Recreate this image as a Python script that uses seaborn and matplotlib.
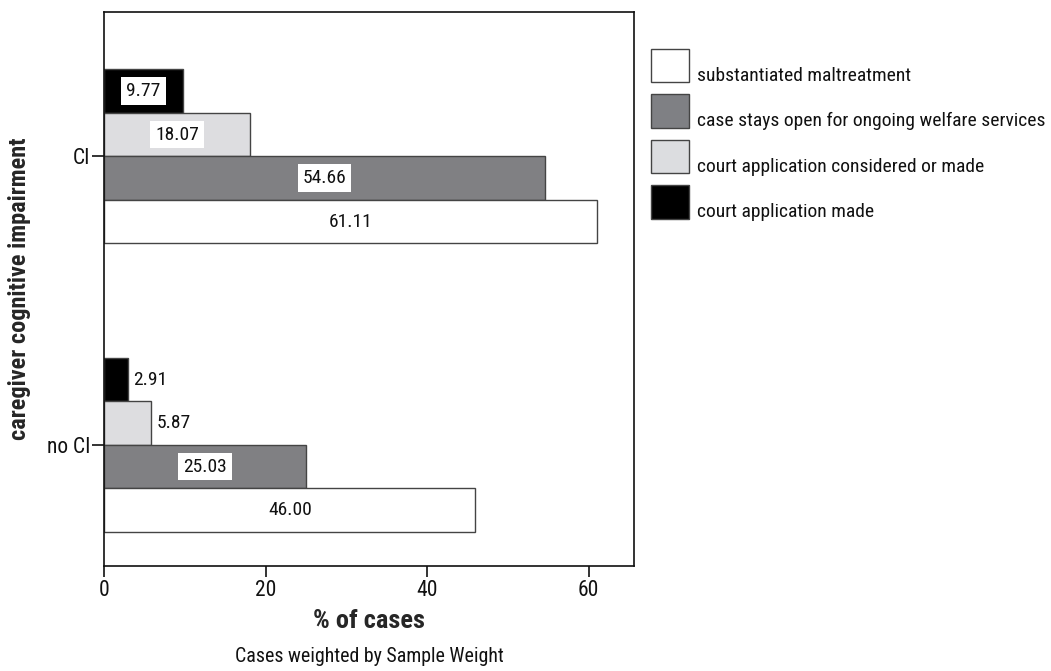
import matplotlib
matplotlib.use("Agg")
import matplotlib.pyplot as plt
from matplotlib.patches import Patch, Rectangle
from matplotlib.legend_handler import HandlerPatch
import pandas as pd
import seaborn as sns

# Data
groups = ["CI", "no CI"]
outcomes = [
    "court application made",
    "court application considered or made",
    "case stays open for ongoing welfare services",
    "substantiated maltreatment",
]
court_made = [9.77, 2.91]
court_considered = [18.07, 5.87]
case_open = [54.66, 25.03]
substantiated = [61.11, 46.00]

colors = {
    "court application made": "#000000",
    "court application considered or made": "#dcdde0",
    "case stays open for ongoing welfare services": "#7f8084",
    "substantiated maltreatment": "#ffffff",
}

sns.set_style("ticks")
plt.rcParams["font.family"] = ["Roboto Condensed", "DejaVu Sans"]
plt.rcParams["text.color"] = "#111111"
plt.rcParams["xtick.color"] = "#111111"
plt.rcParams["ytick.color"] = "#111111"

rows = []
for name, vals in zip(outcomes, [court_made, court_considered, case_open, substantiated]):
    for g, v in zip(groups, vals):
        rows.append({"group": g, "outcome": name, "pct": v})
df = pd.DataFrame(rows)

fig = plt.figure(figsize=(10.51, 6.71), dpi=100)
ax = fig.add_axes([0.099, 0.1565, 0.504, 0.8255])

sns.barplot(
    data=df, x="pct", y="group", hue="outcome", hue_order=outcomes,
    palette=colors, orient="h", width=0.603, edgecolor="#444444",
    linewidth=1.0, legend=False, ax=ax,
)

ax.set_xlim(0, 65.6)
ax.set_ylim(1.42, -0.50)
ax.set_xticks([0, 20, 40, 60])
for s in ax.spines.values():
    s.set_visible(True)
    s.set_linewidth(1.2)
    s.set_color("#111111")
ax.tick_params(axis="x", length=8, width=1.2, labelsize=15.5, pad=2)
ax.tick_params(axis="y", length=9, width=1.2, labelsize=15.5, pad=1)

# value labels: inside (white box) when the label fits, otherwise just past the bar end
for container in ax.containers:
    for bar in container:
        val = bar.get_width()
        yc = bar.get_y() + bar.get_height() / 2
        if val > 8:
            ax.text(val / 2, yc, f"{val:.2f}", ha="center", va="center", fontsize=14,
                    bbox=dict(boxstyle="square,pad=0.25", fc="white", ec="none"))
        else:
            ax.annotate(f"{val:.2f}", (val, yc), xytext=(4, 0), textcoords="offset points",
                        ha="left", va="center", fontsize=14)

ax.set_xlabel("% of cases", fontsize=19, fontweight="bold", labelpad=6)
ax.set_ylabel("caregiver cognitive impairment", fontsize=17.5, fontweight="bold", labelpad=11)


# legend swatches sit on the text baseline, as in the SPSS output
def baseline_box(legend, orig_handle, xdescent, ydescent, width, height, fontsize):
    return Rectangle((-xdescent, -1), width, height)


handles = [Patch(facecolor=colors[o], edgecolor="#444444", linewidth=1.0, label=o)
           for o in outcomes[::-1]]
fig.legend(
    handles=handles, loc="upper left", bbox_to_anchor=(651 / 1051, 1 - 58 / 671),
    frameon=False, fontsize=14, handlelength=1.96, handleheight=2.3,
    handletextpad=0.41, labelspacing=0.6, borderpad=0, borderaxespad=0,
    handler_map={Patch: HandlerPatch(patch_func=baseline_box)},
)

fig.text(369 / 1051, 1 - 657 / 671, "Cases weighted by Sample Weight",
         ha="center", va="center", fontsize=14.3)

fig.savefig("out.png", dpi=100)
